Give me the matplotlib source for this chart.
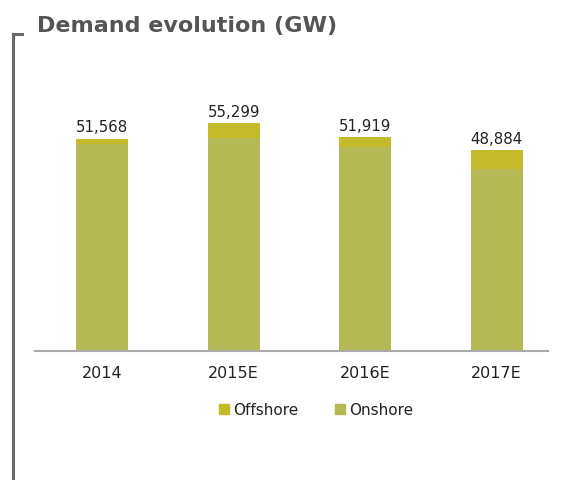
import numpy as np
import matplotlib.pyplot as plt
from matplotlib.lines import Line2D

# data (GW)
years = ["2014", "2015E", "2016E", "2017E"]
totals = [51568, 55299, 51919, 48884]
offshore = [1200, 3600, 2400, 4600]
onshore = [t - o for t, o in zip(totals, offshore)]

c_off = "#c5b92c"
c_on = "#b4b955"
grey = "#555555"

fig = plt.figure(figsize=(5.66, 4.81), dpi=100)
ax = fig.add_axes([35 / 566, 1 - 352 / 481, 513 / 566, 252 / 481])

x = np.arange(len(years))
w = 0.395
ax.bar(x, onshore, w, color=c_on, label="Onshore")
ax.bar(x, offshore, w, bottom=onshore, color=c_off, label="Offshore")

for xi, t in zip(x, totals):
    ax.annotate(f"{t:,}", (xi, t), xytext=(0, 3), textcoords="offset points",
                ha="center", va="bottom", fontsize=10.8, color="#222222")

ax.set_xlim(-0.51, 3.39)
ax.set_ylim(0, 61200)
ax.set_xticks(x)
ax.set_xticklabels(years, fontsize=11.5, color="#222222")
ax.tick_params(axis="x", length=0, pad=10)
ax.set_yticks([])
for s in ["top", "right", "left"]:
    ax.spines[s].set_visible(False)
ax.spines["bottom"].set_color("#aaaaaa")
ax.spines["bottom"].set_linewidth(1.5)

# legend: offshore first
handles = [
    Line2D([], [], marker="s", ls="", color=c_off, markersize=7),
    Line2D([], [], marker="s", ls="", color=c_on, markersize=7),
]
fig.legend(handles, ["Offshore", "Onshore"], loc="center",
           bbox_to_anchor=(0.556, 1 - 411 / 481), ncol=2, frameon=False,
           fontsize=11, handletextpad=0.1, columnspacing=2.2,
           handlelength=1.0, labelcolor="#222222")

# title and bracket
fig.text(37 / 566, 1 - 26 / 481, "Demand evolution (GW)", fontsize=16,
         fontweight="bold", color=grey, ha="left", va="center")
fig.add_artist(Line2D([12.5 / 566, 12.5 / 566], [0, 1 - 35 / 481],
                      color="#6a6a6a", lw=2.2, transform=fig.transFigure))
fig.add_artist(Line2D([12.5 / 566, 22 / 566], [1 - 35 / 481, 1 - 35 / 481],
                      color="#6a6a6a", lw=2.2, transform=fig.transFigure))

fig.savefig("out.png", dpi=100)
